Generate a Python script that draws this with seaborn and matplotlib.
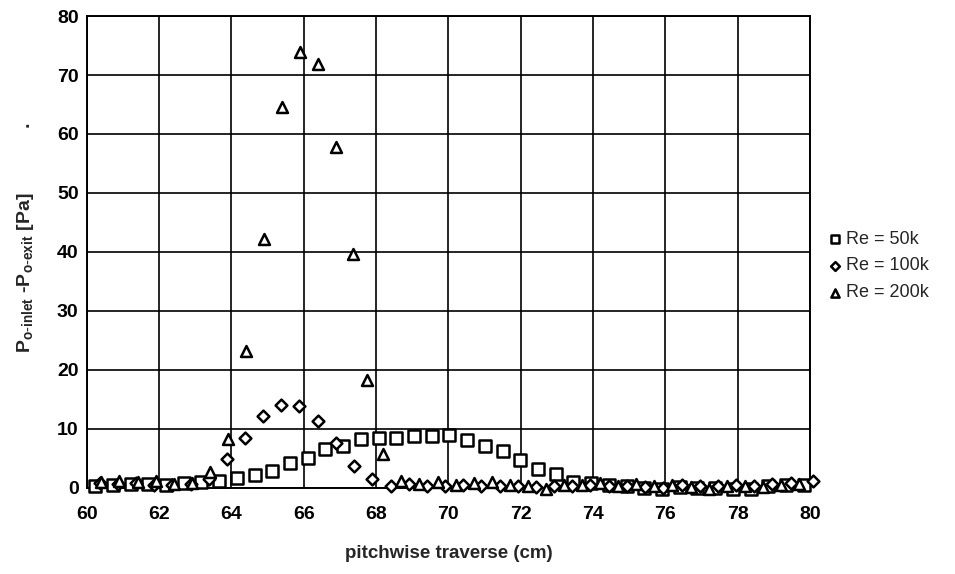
import numpy as np
import pandas as pd
import seaborn as sns
import matplotlib.pyplot as plt

# Re = 50k (squares)
x_50k = [60.23, 60.72, 61.21, 61.70, 62.19, 62.68, 63.17, 63.66, 64.15, 64.64,
         65.13, 65.62, 66.11, 66.60, 67.09, 67.58, 68.07, 68.56, 69.05, 69.54,
         70.03, 70.52, 71.01, 71.50, 71.99, 72.48, 72.97, 73.46, 73.95, 74.44,
         74.93, 75.42, 75.91, 76.40, 76.89, 77.38, 77.87, 78.36, 78.85, 79.34, 79.83]
dp_50k = [0.3, 0.5, 0.6, 0.6, 0.4, 0.7, 0.9, 1.1, 1.7, 2.2,
          2.9, 4.1, 5.1, 6.5, 7.0, 8.2, 8.4, 8.4, 8.7, 8.7,
          8.9, 8.0, 7.1, 6.2, 4.7, 3.2, 2.3, 1.0, 0.8, 0.5,
          0.3, 0.0, -0.2, 0.1, -0.1, 0.0, -0.3, -0.2, 0.3, 0.5, 0.4]

# Re = 100k (diamonds)
x_100k = [60.35, 60.85, 61.36, 61.86, 62.36, 62.87, 63.37, 63.87, 64.37, 64.88,
          65.38, 65.88, 66.39, 66.89, 67.39, 67.90, 68.40, 68.90, 69.40, 69.91,
          70.41, 70.91, 71.42, 71.92, 72.42, 72.93, 73.43, 73.93, 74.44, 74.94,
          75.44, 75.95, 76.45, 76.95, 77.46, 77.96, 78.46, 78.96, 79.47, 80.10]
dp_100k = [0.8, 0.6, 0.7, 0.5, 0.4, 0.6, 1.5, 4.8, 8.5, 12.1,
           14.0, 13.8, 11.3, 7.5, 3.6, 1.4, 0.3, 0.6, 0.2, 0.3,
           0.4, 0.2, 0.3, 0.2, 0.1, 0.3, 0.2, 0.4, 0.3, 0.2,
           0.1, 0.0, 0.4, 0.3, 0.2, 0.5, 0.2, 0.6, 0.7, 1.2]

# Re = 200k (triangles)
x_200k = [60.4, 60.9, 61.4, 61.9, 62.4, 62.9, 63.4, 63.9, 64.4, 64.9,
          65.4, 65.9, 66.4, 66.9, 67.35, 67.75, 68.2, 68.7, 69.2, 69.7,
          70.2, 70.7, 71.2, 71.7, 72.2, 72.7, 73.2, 73.7, 74.2, 74.7,
          75.2, 75.7, 76.2, 76.7, 77.2, 77.7, 78.2, 78.7, 79.2, 79.7]
dp_200k = [1.0, 1.2, 0.9, 1.1, 0.6, 0.8, 2.7, 8.3, 23.1, 42.1,
           64.5, 73.9, 71.8, 57.8, 39.6, 18.2, 5.7, 1.2, 0.6, 1.0,
           0.5, 0.7, 0.9, 0.4, 0.3, -0.2, 0.4, 0.5, 0.8, 0.3,
           0.6, 0.2, 0.4, 0.1, -0.3, 0.3, 0.2, 0.1, 0.5, 0.6]

series = [
    ('Re = 50k', x_50k, dp_50k, 's', 70),
    ('Re = 100k', x_100k, dp_100k, 'D', 36),
    ('Re = 200k', x_200k, dp_200k, '^', 62),
]

sns.set_style('white')
plt.rcParams['font.family'] = ['Liberation Sans', 'DejaVu Sans']
plt.rcParams['mathtext.default'] = 'regular'

fig, ax = plt.subplots(figsize=(9.55, 5.74), dpi=100)
fig.subplots_adjust(left=0.091, right=0.848, top=0.972, bottom=0.1505)

for label, xs, ys, mk, size in series:
    df = pd.DataFrame({'x': xs, 'y': ys})
    sns.scatterplot(data=df, x='x', y='y', marker=mk, s=size, facecolor='white',
                    edgecolor='black', linewidth=1.8, label=label, ax=ax,
                    clip_on=False, zorder=3)

ax.set_xlim(60, 80)
ax.set_ylim(0, 80)
ax.set_xticks(np.arange(60, 81, 2))
ax.set_yticks(np.arange(0, 81, 10))
ax.grid(True, color='black', linewidth=1.2)
for sp in ax.spines.values():
    sp.set_color('black')
    sp.set_linewidth(1.4)
ax.tick_params(axis='both', direction='inout', length=6, width=1.2, colors='black',
               labelsize=14)
ax.tick_params(axis='x', pad=10)
ax.tick_params(axis='y', pad=3)
for t in ax.get_xticklabels() + ax.get_yticklabels():
    t.set_fontweight('bold')

ax.set_xlabel('pitchwise traverse (cm)', fontsize=13.5, fontweight='bold', labelpad=16)
ax.set_ylabel(r'P$_{o\text{-}inlet}$ -P$_{o\text{-}exit}$ [Pa]            .', fontsize=14,
              fontweight='bold')
ax.yaxis.set_label_coords(-0.071, 0.53)

ax.legend(loc='center left', bbox_to_anchor=(1.0, 0.47), frameon=False,
          fontsize=13, handletextpad=0.0, handlelength=1.2, markerscale=0.75,
          labelspacing=0.55, borderaxespad=0.4)

fig.savefig('out.png', dpi=100)
